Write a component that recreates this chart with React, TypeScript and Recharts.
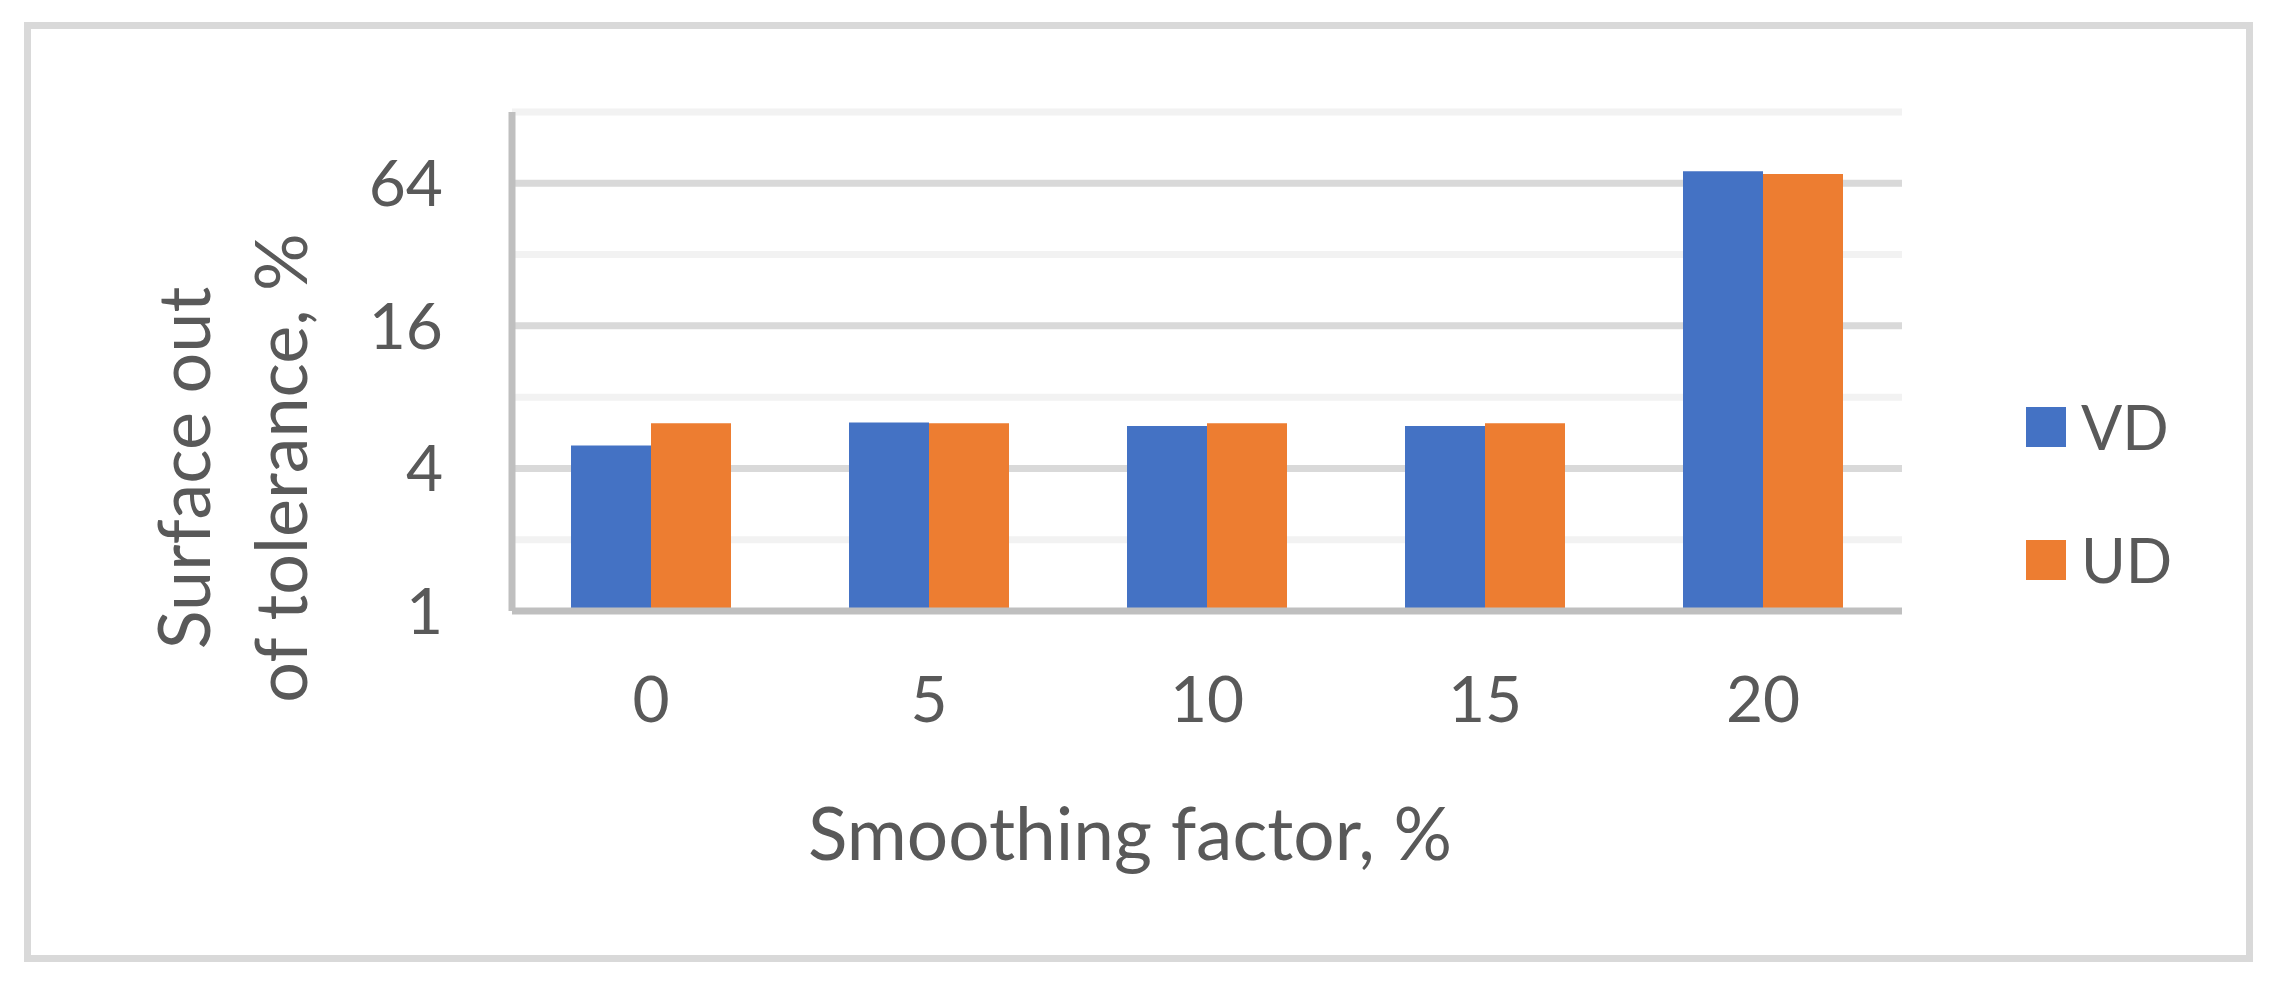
import { Bar, BarChart, CartesianGrid, Legend, XAxis, YAxis } from "recharts";

const categories = ["0", "5", "10", "15", "20"];
const vdValues = [5.0, 6.25, 6.05, 6.05, 72];
const udValues = [6.2, 6.2, 6.2, 6.2, 70];
const seriesNames = ["VD", "UD"];
const majorTicks = [1, 4, 16, 64];
const majorGrid = [4, 16, 64];
const minorGrid = [2, 8, 32, 128];

const data = categories.map((c, i) => ({ name: c, VD: vdValues[i], UD: udValues[i] }));

const FONT = "Lato, 'Open Sans', sans-serif";
const TEXT = "#595959";
const BLUE = "#4472C4";
const ORANGE = "#ED7D31";

function LegendBox({ payload }: any) {
  // keep the series order (recharts sorts vertical legends)
  const items = [...(payload || [])].sort(
    (a: any, b: any) => seriesNames.indexOf(a.value) - seriesNames.indexOf(b.value)
  );
  return (
    <div style={{ fontFamily: FONT }}>
      {items.map((p: any) => (
        <div key={p.value} style={{ height: 133, display: "flex", alignItems: "center" }}>
          <div style={{ width: 40, height: 40, background: p.color }} />
          <span style={{ marginLeft: 15, fontSize: 61, lineHeight: 1, color: TEXT }}>{p.value}</span>
        </div>
      ))}
    </div>
  );
}

export default function App() {
  return (
    <div style={{ position: "relative", width: 2261, height: 966 }}>
      <div
        style={{
          position: "absolute",
          left: 16,
          top: 14,
          width: 2229,
          height: 940,
          border: "7px solid #D9D9D9",
          boxSizing: "border-box",
        }}
      />
      <div style={{ position: "absolute", left: 0, top: 0 }}>
        <BarChart
          width={2261}
          height={966}
          data={data}
          margin={{ top: 104, right: 367, left: 424, bottom: 283 }}
          barSize={80}
          barGap={0}
        >
          <CartesianGrid vertical={false} horizontalValues={minorGrid} stroke="#F2F2F2" strokeWidth={7} />
          <CartesianGrid vertical={false} horizontalValues={majorGrid} stroke="#D9D9D9" strokeWidth={7} />
          <XAxis
            dataKey="name"
            height={80}
            tickLine={false}
            tickSize={0}
            tickMargin={66}
            axisLine={{ stroke: "#BFBFBF", strokeWidth: 7 }}
            tick={{ fill: TEXT, fontSize: 64, fontFamily: FONT }}
            label={{
              content: () => (
                <text x={1122} y={852} textAnchor="middle" fill={TEXT} fontSize={73} fontFamily={FONT}>
                  Smoothing factor, %
                </text>
              ),
            }}
          />
          <YAxis
            width={80}
            scale="log"
            type="number"
            domain={[1, 128]}
            allowDataOverflow
            ticks={majorTicks}
            interval={0}
            tickLine={false}
            tickSize={0}
            tickMargin={69}
            axisLine={{ stroke: "#BFBFBF", strokeWidth: 7 }}
            tick={{ fill: TEXT, fontSize: 64, fontFamily: FONT }}
            label={{
              content: () => (
                <g fill={TEXT} fontSize={72} fontFamily={FONT}>
                  <text x={202} y={460} textAnchor="middle" transform="rotate(-90 202 460)">
                    Surface out
                  </text>
                  <text x={299} y={460} textAnchor="middle" transform="rotate(-90 299 460)">
                    of tolerance, %
                  </text>
                </g>
              ),
            }}
          />
          <Legend
            layout="vertical"
            align="center"
            verticalAlign="middle"
            wrapperStyle={{ left: 2018, top: 352, width: 220 }}
            content={<LegendBox />}
          />
          <Bar dataKey="VD" fill={BLUE} isAnimationActive={false} />
          <Bar dataKey="UD" fill={ORANGE} isAnimationActive={false} />
        </BarChart>
      </div>
    </div>
  );
}
